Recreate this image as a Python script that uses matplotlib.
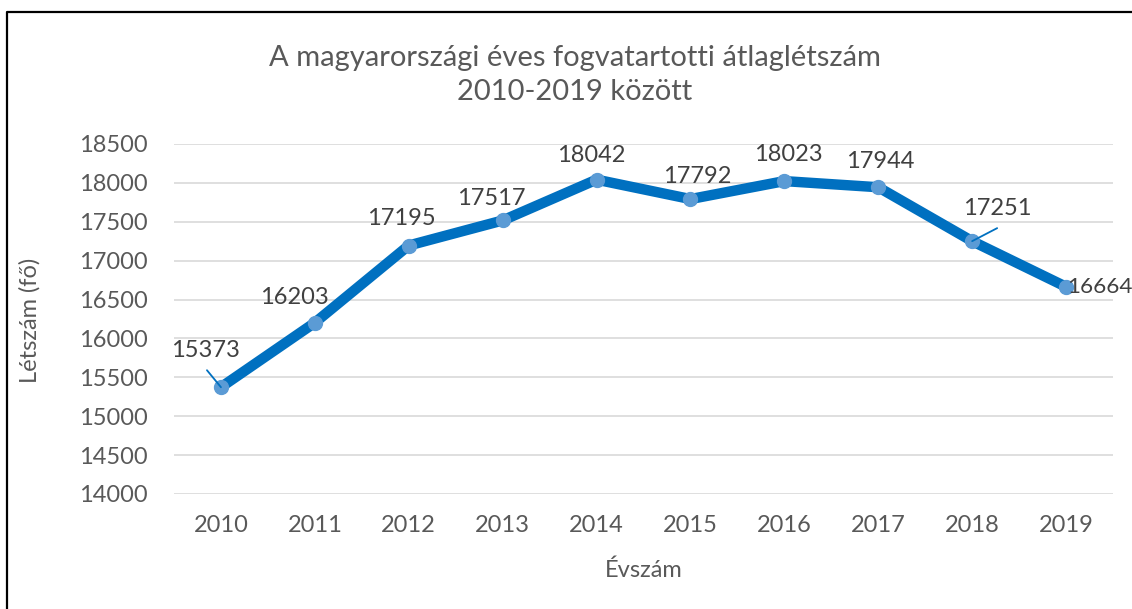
import matplotlib.pyplot as plt
from matplotlib.lines import Line2D

plt.rcParams['font.family'] = ['Lato', 'DejaVu Sans']

# data
years = ['2010', '2011', '2012', '2013', '2014', '2015', '2016', '2017', '2018', '2019']
headcount = [15373, 16203, 17195, 17517, 18042, 17792, 18023, 17944, 17251, 16664]
yticks = [14000, 14500, 15000, 15500, 16000, 16500, 17000, 17500, 18000, 18500]

# label offsets in pixels (dx, dy)
label_off = [(-15, 37), (-20, 25), (-7, 27), (-11, 22), (-5, 24),
             (7, 23), (4, 27), (2, 26), (25, 33), (1, 0)]

grey = '#595959'
dark = '#404040'
fs = 17


def do_plot():
    f = plt.figure(figsize=(11.32, 6.09), dpi=100)
    ax = f.add_axes([174 / 1132, 1 - 494 / 609, (1113 - 174) / 1132, (494 - 144) / 609])
    x = list(range(len(years)))
    ax.plot(x, headcount, color='#0070C0', lw=7.5, solid_capstyle='butt',
            marker='o', ms=10, mfc='#5B9BD5', mec='#5B9BD5', zorder=3)

    pt = 72 / 100
    for i, v in enumerate(headcount):
        dx, dy = label_off[i]
        last = i == len(years) - 1
        ax.annotate(str(v), (i, v), xytext=(dx * pt, dy * pt), textcoords='offset points',
                    ha='left' if last else 'center', va='center',
                    fontsize=16.2 if last else fs, color=dark, annotation_clip=False)
    # leader lines for 2010 and 2018
    ax.annotate('', (0, headcount[0]), xytext=(-14 * pt, 17 * pt), textcoords='offset points',
                arrowprops=dict(arrowstyle='-', color='#0070C0', lw=1.3, shrinkA=0, shrinkB=0))
    ax.annotate('', (8, headcount[8]), xytext=(25 * pt, 13 * pt), textcoords='offset points',
                arrowprops=dict(arrowstyle='-', color='#0070C0', lw=1.3, shrinkA=0, shrinkB=0))

    ax.set_xlim(-0.5, len(years) - 0.5)
    ax.set_ylim(14000, 18500)
    ax.set_yticks(yticks)
    ax.set_xticks(x)
    ax.set_xticklabels(years)
    ax.grid(axis='y', color='#D9D9D9', lw=1.2)
    ax.set_axisbelow(True)
    for s in ax.spines.values():
        s.set_visible(False)
    ax.tick_params(length=0, labelsize=fs, labelcolor=grey)
    ax.tick_params(axis='y', pad=19)
    ax.tick_params(axis='x', pad=15)

    ax.set_xlabel('Évszám', fontsize=fs, color=grey, labelpad=17)
    f.text(30 / 1132, 1 - 320 / 609, 'Létszám (fő)', rotation=90, ha='center', va='center',
           fontsize=fs, color=grey)
    f.text(575 / 1132, 1 - 75 / 609, 'A magyarországi éves fogvatartotti átlaglétszám\n2010-2019 között',
           ha='center', va='center', fontsize=21, color=grey, linespacing=1.35)

    # frame of the chart area (top and left edges)
    f.add_artist(Line2D([7 / 1132, 7 / 1132, 1], [0, 1 - 12 / 609, 1 - 12 / 609],
                        transform=f.transFigure, color='black', lw=1.6))
    plt.savefig('out.png', dpi=100)


do_plot()
